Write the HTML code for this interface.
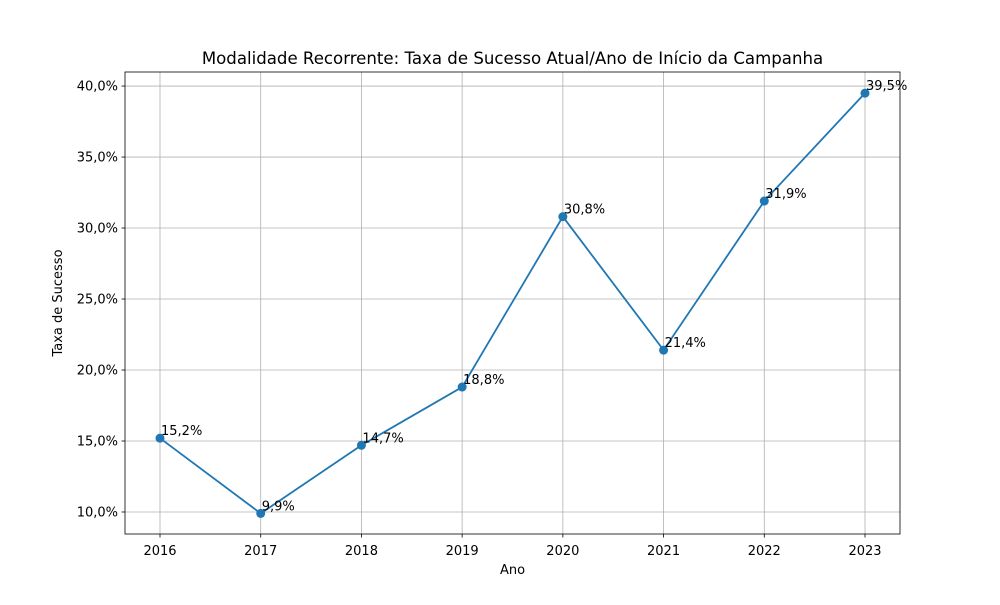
<!DOCTYPE html>
<html><head><meta charset="utf-8"><style>
body{margin:0;background:#fff;font-family:"Liberation Sans","DejaVu Sans",sans-serif}
svg text{font-family:"DejaVu Sans","Liberation Sans",sans-serif}
</style></head><body>
<svg id="c" width="1000" height="600"></svg>
<script>
const years=["2016","2017","2018","2019","2020","2021","2022","2023"];
const rates=[15.2,9.9,14.7,18.8,30.8,21.4,31.9,39.5];
const yTicks=[10,15,20,25,30,35,40];
const svg=document.getElementById('c');const NS='http://www.w3.org/2000/svg';
const L=125,R=900,T=72,B=534;
const yMin=8.45,yMax=40.99;
const x=i=>160+i*(865-160)/(years.length-1);
const y=v=>B-(v-yMin)/(yMax-yMin)*(B-T);
function mk(t,a,txt){const e=document.createElementNS(NS,t);for(const k in a)e.setAttribute(k,a[k]);if(txt!=null)e.textContent=txt;svg.appendChild(e);return e;}
const fmt=v=>v.toFixed(1).replace('.',',')+'%';
yTicks.forEach(v=>{
 const g=mk('line',{x1:L,x2:R,y1:y(v),y2:y(v),stroke:'#b0b0b0','stroke-width':0.8});
 
 mk('line',{x1:L-3.5,x2:L,y1:y(v),y2:y(v),stroke:'#000','stroke-width':0.8});
 const t=mk('text',{x:L-7,y:y(v)+4.5,'text-anchor':'end','font-size':13},fmt(v));
 
});
years.forEach((yr,i)=>{
 const g=mk('line',{x1:x(i),x2:x(i),y1:T,y2:B,stroke:'#b0b0b0','stroke-width':0.8});
 
 mk('line',{x1:x(i),x2:x(i),y1:B,y2:B+3.5,stroke:'#000','stroke-width':0.8});
 const t=mk('text',{x:x(i),y:B+21,'text-anchor':'middle','font-size':13},yr);
 
});
const fr=mk('rect',{x:L,y:T,width:R-L,height:B-T,fill:'none',stroke:'#000','stroke-width':0.8});

const ln=mk('polyline',{points:rates.map((v,i)=>x(i)+','+y(v)).join(' '),fill:'none',stroke:'#1f77b4','stroke-width':1.8});

rates.forEach((v,i)=>{
 const c=mk('circle',{cx:x(i),cy:y(v),r:4.5,fill:'#1f77b4'});
 
 const t=mk('text',{x:x(i)+1,y:y(v)-3,'font-size':13},fmt(v));
 
});
const ti=mk('text',{x:512.5,y:64,'text-anchor':'middle','font-size':16.6},'Modalidade Recorrente: Taxa de Sucesso Atual/Ano de Início da Campanha');

const xt=mk('text',{x:512.5,y:574,'text-anchor':'middle','font-size':13},'Ano');

const yt=mk('text',{x:0,y:0,'text-anchor':'middle','font-size':13,transform:'translate(62,303) rotate(-90)'},'Taxa de Sucesso');

</script></body></html>
